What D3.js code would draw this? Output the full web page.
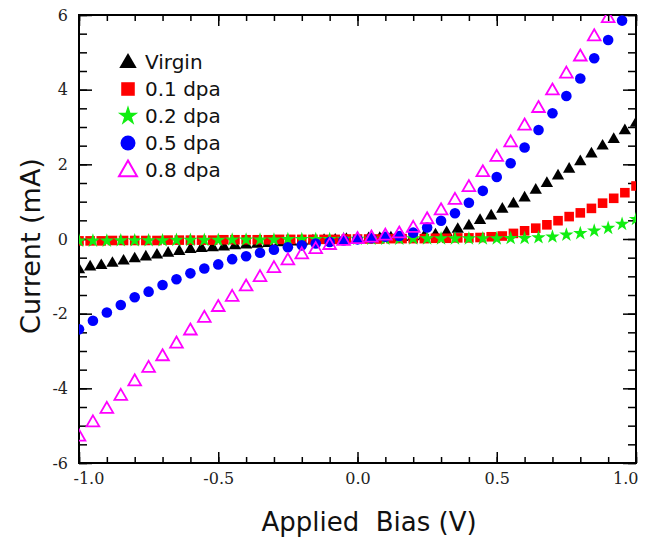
<!DOCTYPE html>
<html>
<head>
<meta charset="utf-8">
<script src="https://cdn.jsdelivr.net/npm/d3@7"></script>
<style>
  body { margin: 0; background: #fff; }
  svg { display: block; }
</style>
</head>
<body>
<svg id="chart" width="650" height="538"></svg>
<script>
// x grids (two sampling steps)
const biasStep04 = [-1.00, -0.96, -0.92, -0.88, -0.84, -0.80, -0.76, -0.72, -0.68, -0.64, -0.60,
  -0.56, -0.52, -0.48, -0.44, -0.40, -0.36, -0.32, -0.28, -0.24, -0.20, -0.16, -0.12, -0.08, -0.04,
  0.00, 0.04, 0.08, 0.12, 0.16, 0.20, 0.24, 0.28, 0.32, 0.36, 0.40, 0.44, 0.48, 0.52, 0.56, 0.60,
  0.64, 0.68, 0.72, 0.76, 0.80, 0.84, 0.88, 0.92, 0.96, 1.00];
const biasStep05 = [-1.00, -0.95, -0.90, -0.85, -0.80, -0.75, -0.70, -0.65, -0.60, -0.55, -0.50,
  -0.45, -0.40, -0.35, -0.30, -0.25, -0.20, -0.15, -0.10, -0.05, 0.00, 0.05, 0.10, 0.15, 0.20,
  0.25, 0.30, 0.35, 0.40, 0.45, 0.50, 0.55, 0.60, 0.65, 0.70, 0.75, 0.80, 0.85, 0.90, 0.95, 1.00];

// currents (mA)
const virgin = [-0.82, -0.75, -0.71, -0.65, -0.59, -0.53, -0.48, -0.43, -0.38, -0.33, -0.28,
  -0.25, -0.23, -0.21, -0.18, -0.16, -0.14, -0.12, -0.10, -0.08, -0.07, -0.05, -0.04, -0.03, -0.01,
  0.00, 0.01, 0.02, 0.03, 0.04, 0.06, 0.08, 0.11, 0.17, 0.26, 0.35, 0.50, 0.62, 0.80, 0.94, 1.10,
  1.31, 1.49, 1.69, 1.87, 2.07, 2.28, 2.49, 2.67, 2.90, 3.10];
const dpa01 = [-0.05, -0.05, -0.05, -0.04, -0.04, -0.04, -0.04, -0.04, -0.03, -0.03, -0.03,
  -0.03, -0.03, -0.02, -0.02, -0.02, -0.02, -0.02, -0.01, -0.01, -0.01, -0.01, -0.01, -0.01, 0.00,
  0.00, 0.00, 0.00, 0.01, 0.01, 0.01, 0.01, 0.02, 0.02, 0.03, 0.03, 0.04, 0.06, 0.08, 0.15, 0.22,
  0.29, 0.38, 0.49, 0.60, 0.70, 0.82, 0.96, 1.09, 1.24, 1.42];
const dpa02 = [-0.05, -0.05, -0.05, -0.04, -0.04, -0.04, -0.04, -0.03, -0.03, -0.03, -0.03,
  -0.02, -0.02, -0.02, -0.02, -0.01, -0.01, -0.01, -0.01, 0.00, 0.00, 0.00, 0.00, 0.00, 0.01,
  0.01, 0.01, 0.01, 0.01, 0.01, 0.01, 0.02, 0.02, 0.04, 0.06, 0.11, 0.15, 0.22, 0.29, 0.40, 0.53];
const dpa05 = [-2.42, -2.19, -1.97, -1.77, -1.56, -1.41, -1.23, -1.08, -0.92, -0.79, -0.68,
  -0.54, -0.46, -0.37, -0.29, -0.22, -0.17, -0.12, -0.08, -0.04, -0.01, 0.02, 0.06, 0.08, 0.17,
  0.31, 0.49, 0.69, 0.97, 1.29, 1.66, 2.03, 2.45, 2.92, 3.37, 3.83, 4.30, 4.84, 5.33, 5.85, 6.35];
const dpa08 = [-5.30, -4.92, -4.56, -4.21, -3.82, -3.46, -3.15, -2.81, -2.46, -2.12, -1.83,
  -1.56, -1.28, -1.03, -0.79, -0.58, -0.42, -0.28, -0.17, -0.06, -0.01, 0.03, 0.08, 0.14, 0.29,
  0.52, 0.76, 1.04, 1.38, 1.78, 2.19, 2.58, 3.03, 3.50, 3.97, 4.42, 4.88, 5.42, 5.91, 6.45, 7.00];

const seriesNames = ["Virgin", "0.1 dpa", "0.2 dpa", "0.5 dpa", "0.8 dpa"];
const xMajor = [-1.0, -0.5, 0.0, 0.5, 1.0];
const yMajor = [-6, -4, -2, 0, 2, 4, 6];

// plot box
var margin = { top: 15, right: 14, bottom: 75, left: 79 },
  W = 650, H = 538,
  x0 = margin.left, x1 = W - margin.right,
  y0 = margin.top, y1 = H - margin.bottom;

var x = d3.scaleLinear().domain([-1, 1]).range([x0, x1]),
  y = d3.scaleLinear().domain([-6, 6]).range([y1, y0]);

var svg = d3.select("#chart");

svg.append("defs").append("clipPath").attr("id", "plotClip")
  .append("rect").attr("x", x0).attr("y", y0).attr("width", x1 - x0).attr("height", y1 - y0);

// minor ticks every 0.1 V and 0.5 mA
var xMinor = d3.range(-10, 11).map((d) => d / 10),
  yMinor = d3.range(-12, 13).map((d) => d / 2);

function tickGroup(axis, tf) {
  var g = svg.append("g").attr("transform", tf).call(axis);
  g.select(".domain").remove();
  g.selectAll("line").attr("stroke", "#000").attr("stroke-width", 1.5);
  return g;
}

tickGroup(d3.axisBottom(x).tickValues(xMinor).tickSize(-6).tickFormat(""), "translate(0," + y1 + ")");
tickGroup(d3.axisTop(x).tickValues(xMinor).tickSize(-6).tickFormat(""), "translate(0," + y0 + ")");
tickGroup(d3.axisLeft(y).tickValues(yMinor).tickSize(-8).tickFormat(""), "translate(" + x0 + ",0)");
tickGroup(d3.axisRight(y).tickValues(yMinor).tickSize(-8).tickFormat(""), "translate(" + x1 + ",0)");
tickGroup(d3.axisTop(x).tickValues(xMajor).tickSize(-11).tickFormat(""), "translate(0," + y0 + ")");
tickGroup(d3.axisRight(y).tickValues(yMajor).tickSize(-13).tickFormat(""), "translate(" + x1 + ",0)");

var gx = tickGroup(
  d3.axisBottom(x).tickValues(xMajor).tickSize(-11).tickPadding(10).tickFormat(d3.format(".1f")),
  "translate(0," + y1 + ")"
);
var gy = tickGroup(
  d3.axisLeft(y).tickValues(yMajor).tickSize(-13).tickPadding(11).tickFormat(d3.format("d")),
  "translate(" + x0 + ",0)"
);

[gx, gy].forEach((g) =>
  g.selectAll("text")
    .attr("fill", "#222")
    .style("font-family", "'DejaVu Serif', serif")
    .style("font-size", "16px")
    .text(function () { return this.textContent.replace("\u2212", "-"); })
);
// end labels sit inside the frame
gx.selectAll("text")
  .attr("text-anchor", (d) => (d === -1 ? "start" : d === 1 ? "end" : "middle"))
  .attr("dx", (d) => (d === -1 ? -6 : d === 1 ? 2 : 0));

// frame
svg.append("rect")
  .attr("x", x0).attr("y", y0).attr("width", x1 - x0).attr("height", y1 - y0)
  .attr("fill", "none").attr("stroke", "#000").attr("stroke-width", 2);

// marker styles, one per series
var styles = [
  { type: d3.symbolTriangle, size: 66, fill: "#000", stroke: "none" },
  { type: d3.symbolSquare, size: 92, fill: "#ff0000", stroke: "none" },
  { type: d3.symbolStar, size: 64, fill: "#11ee11", stroke: "none" },
  { type: d3.symbolCircle, size: 88, fill: "#0000ff", stroke: "none" },
  { type: d3.symbolTriangle, size: 70, fill: "none", stroke: "#ff00ff" }
];

var series = [
  { xs: biasStep04, ys: virgin },
  { xs: biasStep04, ys: dpa01 },
  { xs: biasStep05, ys: dpa02 },
  { xs: biasStep05, ys: dpa05 },
  { xs: biasStep05, ys: dpa08 }
];

var plot = svg.append("g").attr("clip-path", "url(#plotClip)");

series.forEach((s, i) => {
  var st = styles[i];
  var pts = s.xs.map((v, j) => ({ v: v, c: s.ys[j] }));
  plot.append("g")
    .selectAll("path")
    .data(pts)
    .enter()
    .append("path")
    .attr("d", d3.symbol().type(st.type).size(st.size))
    .attr("transform", (d) => "translate(" + x(d.v) + "," + y(d.c) + ")")
    .attr("fill", st.fill)
    .attr("stroke", st.stroke)
    .attr("stroke-width", 1.8);
});

// legend
var legend = svg.append("g");
seriesNames.forEach((name, i) => {
  var st = styles[i];
  var ly = 62 + i * 27;
  legend.append("path")
    .attr("d", d3.symbol().type(st.type).size(st.size * 2))
    .attr("transform", "translate(128," + (ly + (st.type === d3.symbolTriangle ? 1 : 0)) + ")")
    .attr("fill", st.fill)
    .attr("stroke", st.stroke)
    .attr("stroke-width", 2);
  legend.append("text")
    .attr("x", 145).attr("y", ly + 7)
    .attr("fill", "#111")
    .style("font-family", "'DejaVu Sans', sans-serif")
    .style("font-size", "20px")
    .text(name);
});

// axis titles
svg.append("text")
  .attr("x", 369).attr("y", 531)
  .attr("text-anchor", "middle")
  .attr("fill", "#111")
  .style("font-family", "'DejaVu Sans', sans-serif")
  .style("font-size", "26px")
  .style("white-space", "pre")
  .text("Applied  Bias (V)");

svg.append("text")
  .attr("transform", "translate(40,246) rotate(-90)")
  .attr("text-anchor", "middle")
  .attr("fill", "#111")
  .style("font-family", "'DejaVu Sans', sans-serif")
  .style("font-size", "27px")
  .text("Current (mA)");
</script>
</body>
</html>
